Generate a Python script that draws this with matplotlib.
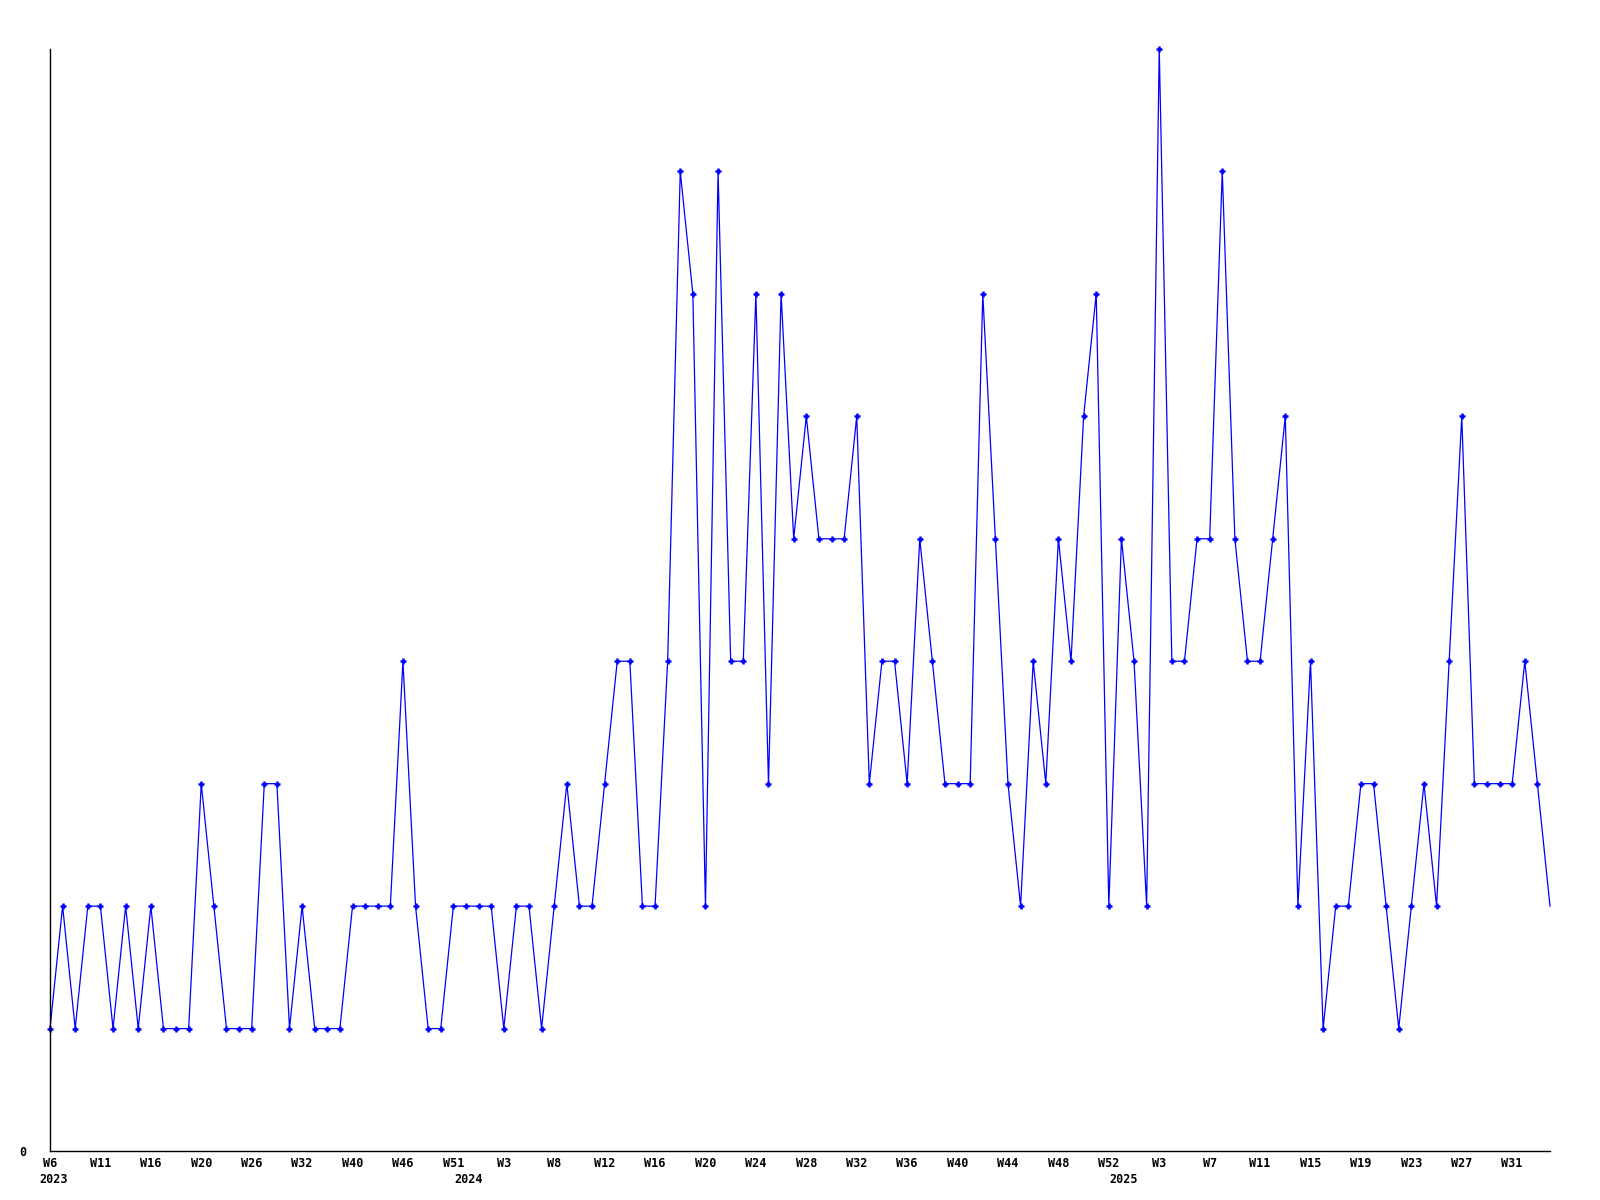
import matplotlib
matplotlib.use("Agg")
import matplotlib.pyplot as plt

# weekly counts, 2023 W6 .. 2025 W34
counts = [1, 2, 1, 2, 2, 1, 2, 1, 2, 1, 1, 1, 3, 2, 1, 1, 1, 3, 3, 1,
          2, 1, 1, 1, 2, 2, 2, 2, 4, 2, 1, 1, 2, 2, 2, 2, 1, 2, 2, 1,
          2, 3, 2, 2, 3, 4, 4, 2, 2, 4, 8, 7, 2, 8, 4, 4, 7, 3, 7, 5,
          6, 5, 5, 5, 6, 3, 4, 4, 3, 5, 4, 3, 3, 3, 7, 5, 3, 2, 4, 3,
          5, 4, 6, 7, 2, 5, 4, 2, 9, 4, 4, 5, 5, 8, 5, 4, 4, 5, 6, 2,
          4, 1, 2, 2, 3, 3, 2, 1, 2, 3, 2, 4, 6, 3, 3, 3, 3, 4, 3, 2]

week_labels = ["W6", "W11", "W16", "W20", "W26", "W32", "W40", "W46", "W51",
               "W3", "W8", "W12", "W16", "W20", "W24", "W28", "W32", "W36",
               "W40", "W44", "W48", "W52", "W3", "W7", "W11", "W15", "W19",
               "W23", "W27", "W31"]
label_step = 4

years = ["2023", "2024", "2025"]
year_pos = [0.25, 33.2, 85.2]

font = {"family": "DejaVu Sans Mono", "weight": "bold", "size": 8.5}

fig = plt.figure(figsize=(16, 12), dpi=100)
ax = fig.add_axes([0.03125, 0.0408, 0.9375, 0.9184])

x = list(range(len(counts)))
ax.plot(x, counts, color="#0000ff", linewidth=0.9, marker="+",
        markersize=5, markeredgewidth=1.8, markevery=list(range(len(counts) - 1)),
        clip_on=False)

ax.set_xlim(0, len(counts) - 1)
ax.set_ylim(0, max(counts))

for side in ["top", "right"]:
    ax.spines[side].set_visible(False)
for side in ["left", "bottom"]:
    ax.spines[side].set_color("black")
    ax.spines[side].set_linewidth(1.0)

ax.set_xticks(range(0, len(week_labels) * label_step, label_step))
ax.set_xticklabels(week_labels, fontdict=font)
ax.tick_params(axis="x", length=0, pad=4)

ax.set_yticks([0])
ax.set_yticklabels(["0"], fontdict=font)
ax.tick_params(axis="y", length=0, pad=17)

for yr, pos in zip(years, year_pos):
    ax.annotate(yr, xy=(pos, 0), xycoords=("data", "axes fraction"),
                xytext=(0, -16), textcoords="offset points",
                ha="center", va="top", fontsize=font["size"],
                family=font["family"], weight=font["weight"],
                annotation_clip=False)

fig.savefig("out.png", dpi=100)
